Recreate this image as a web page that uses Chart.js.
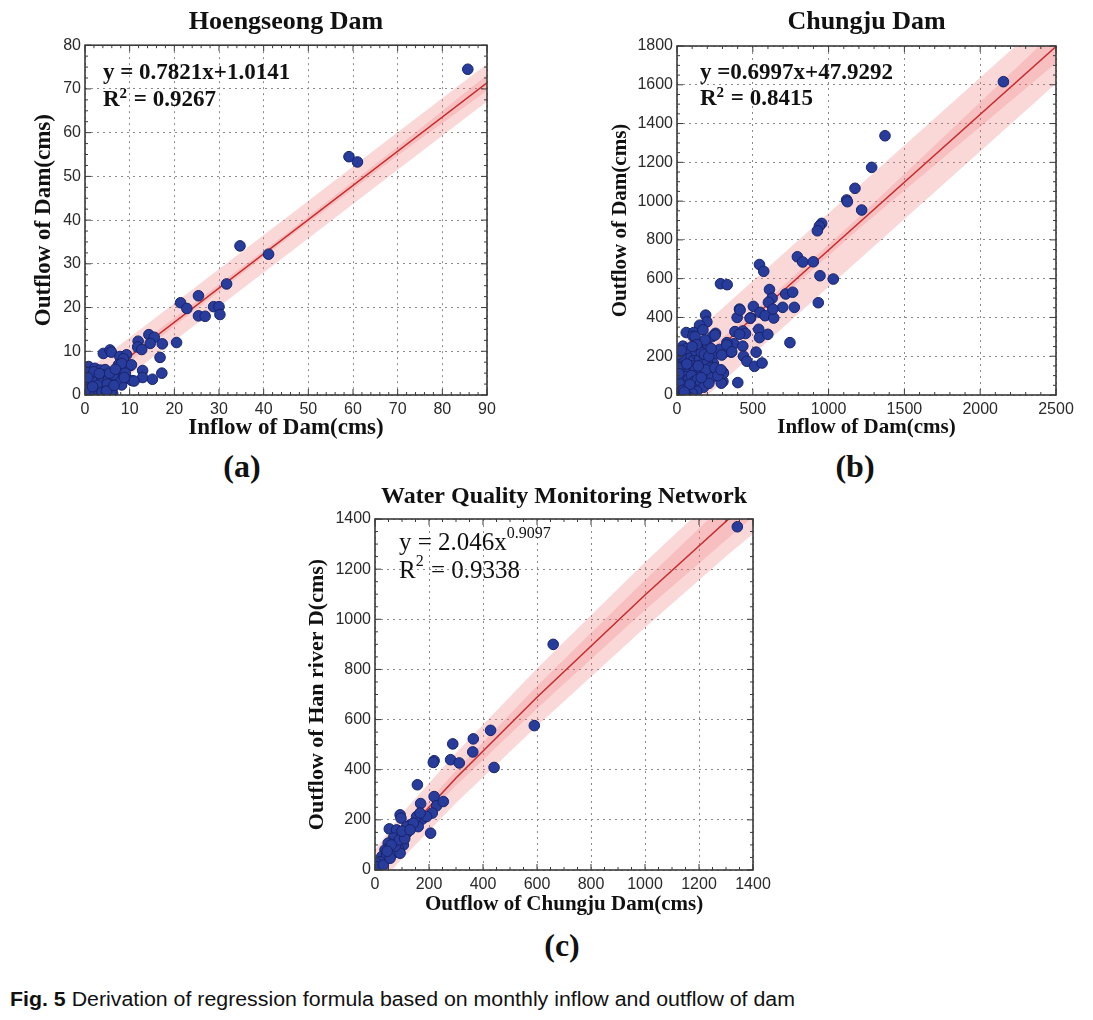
<!DOCTYPE html>
<html>
<head>
<meta charset="utf-8">
<title>Fig. 5 regression</title>
<script src="https://cdn.jsdelivr.net/npm/chart.js@4.4.0/dist/chart.umd.min.js"></script>
<style>
body{margin:0;background:#fff;width:1093px;height:1020px;position:relative;overflow:hidden;}
canvas{position:absolute;}
.lbl{position:absolute;font:bold 32px "Liberation Serif",serif;color:#111;line-height:32px;transform:translateX(-50%);}
#caption{position:absolute;left:10px;top:988px;font:20px "Liberation Sans",Arial,sans-serif;white-space:nowrap;transform-origin:left top;color:#111;}
</style>
</head>
<body>
<canvas id="chartA" width="540" height="445" style="left:0;top:0"></canvas>
<canvas id="chartB" width="503" height="445" style="left:590px;top:0"></canvas>
<canvas id="chartC" width="500" height="445" style="left:290px;top:475px"></canvas>
<div class="lbl" style="left:242px;top:450px">(a)</div>
<div class="lbl" style="left:855px;top:450px">(b)</div>
<div class="lbl" style="left:562px;top:929px">(c)</div>
<div id="caption"><b>Fig. 5</b> Derivation of regression formula based on monthly inflow and outflow of dam</div>
<script>
// DATA (a) HOENGSEONG DAM
const hoengInflow = [85.7,59.1,61.0,34.7,41.1,31.7,25.4,21.4,22.8,25.4,26.9,28.8,30.0,30.2,20.5,14.3,15.5,14.6,17.3,11.9,
  11.8,12.7,16.8,17.2,12.9,12.9,15.1,4.1,5.6,5.9,7.8,9.3,8.6,10.1,7.5,7.8,9.3,10.5,7.8,8.2,6.2,
  0.8,2.2,3.4,4.5,1.1,2.6,4.1,0.4,1.9,3.4,5.2,1.1,3.0,4.5,6.0,0.4,2.2,7.1,6.3,8.2,
  10.4,0.3,0.5,1.5,2.8,3.8,5.0,5.5,6.8,1.0,0.2,2.0,3.2,4.8,6.5,1.7,0.6,9.0,11.0,8.8];
const hoengOutflow = [74.5,54.5,53.3,34.1,32.2,25.4,22.7,21.1,19.8,18.1,18.0,20.2,20.2,18.4,12.0,13.8,13.2,11.8,11.7,12.3,
  11.0,10.4,8.6,5.0,5.6,4.0,3.6,9.5,10.3,9.8,8.8,9.2,8.3,6.7,6.9,5.7,3.8,3.3,3.0,2.3,0.3,
  6.5,6.1,5.7,5.8,4.6,4.2,4.6,3.1,2.7,3.1,3.4,1.5,1.1,1.9,1.1,0.4,0.4,3.4,4.6,7.2,
  6.9,5.2,2.0,3.5,2.2,0.6,2.5,5.0,5.9,0.9,1.2,5.3,4.9,0.9,2.2,1.9,4.0,5.0,3.2,4.0];
const hoengFitX = [0, 90];
const hoengFitY = [1.01, 71.4];
const hoengBandX = [0, 20, 45, 70, 90];
const hoengOuterHi = [5.3, 21.0, 40.5, 60.1, 75.7];
const hoengOuterLo = [-3.3, 12.4, 31.9, 51.5, 67.1];
const hoengInnerHi = [2.6, 17.6, 36.9, 56.8, 73.2];
const hoengInnerLo = [-0.6, 15.8, 35.5, 54.8, 69.6];
const hoengXAxis = [0, 90, 10];
const hoengYAxis = [0, 80, 10];

// DATA (b) CHUNGJU DAM
const chungInflow = [2153,1372,1284,1174,1119,1124,1218,954,939,926,
  794,829,899,943,1031,717,763,697,774,932,
  745,287,331,544,572,610,627,603,504,548,
  581,638,632,485,412,397,382,434,452,412,
  375,434,439,461,511,561,522,539,544,599,
  401,329,357,314,303,303,292,189,197,149,
  61,110,105,39,254,232,171,83,149,204,
  281,237,193,306,240,295,185,119,251,328,
  361,416,482,
  10,30,50,70,90,110,130,150,170,200,
  220,240,20,40,60,80,100,120,140,160,
  180,200,230,15,35,55,75,95,115,135,
  155,175,10,30,50,70,90,110,130,5,
  20,45,80,100,60,25,120,160,65,190,
  210,250,270,290,180,130,100,5,15,40,
  65,85,140,8,28,48,12,160,210,225];
const chungOutflow = [1616,1337,1174,1066,1006,997,954,885,871,847,
  713,686,687,615,598,521,530,452,452,476,
  270,574,569,673,638,544,499,478,457,426,
  409,397,443,398,443,400,327,330,317,313,
  264,252,200,174,148,165,221,339,296,313,
  64,270,221,221,117,70,61,412,377,360,
  322,322,304,252,318,301,336,235,252,252,
  235,200,174,112,163,206,284,301,309,258,
  223,438,396,
  180,160,190,170,200,180,210,190,160,170,
  140,120,130,110,140,120,150,130,110,130,
  100,110,90,90,70,95,80,100,70,80,
  60,40,50,30,50,20,40,30,20,10,
  5,10,5,10,0,200,230,220,240,130,
  60,140,100,130,210,260,250,140,60,25,
  160,55,150,210,230,15,110,90,200,240];
const chungFitX = [0, 2500];
const chungFitY = [48, 1797];
const chungBandX = [0, 600, 1200, 1800, 2500];
const chungOuterHi = [238, 658, 1078, 1497, 1987];
const chungOuterLo = [-142, 278, 698, 1117, 1607];
const chungInnerHi = [98, 493, 918, 1362, 1882];
const chungInnerLo = [-2, 443, 858, 1252, 1712];
const chungXAxis = [0, 2500, 500];
const chungYAxis = [0, 1800, 200];

// DATA (c) WATER QUALITY MONITORING NETWORK
const wqChungju = [1342,660,590,428,364,288,362,280,312,219,
  216,441,157,219,169,228,253,212,206,175,
  154,160,93,96,53,130,117,80,99,68,
  49,80,105,37,62,86,25,43,19,4,
  9,31,68,93,56,117,142,191,167,75,
  90,110,60,45,100,130];
const wqHanRiver = [1369,900,576,557,523,503,471,440,427,436,
  429,409,340,293,265,256,273,227,147,203,
  213,173,220,207,164,180,147,160,133,127,
  107,107,100,80,80,87,53,60,33,29,
  13,20,67,67,47,173,187,213,227,95,
  120,125,100,75,155,160];
const wqFitX = [0, 100, 300, 600, 1000, 1310, 1400];
const wqFitY = [0, 135, 367, 689, 1097, 1400, 1489];
const wqBandX = [0, 100, 300, 600, 1000, 1310, 1400];
const wqOuterHi = [80, 225, 467, 804, 1227, 1540, 1640];
const wqOuterLo = [-80, 45, 267, 574, 967, 1260, 1340];
const wqInnerHi = [10, 155, 397, 734, 1157, 1475, 1570];
const wqInnerLo = [-10, 115, 337, 644, 1037, 1325, 1410];
const wqXAxis = [0, 1400, 200];
const wqYAxis = [0, 1400, 200];

function pts(xs, ys){
  return xs.map((x,i)=>({x:x, y:ys[i]}));
}

// FRAME + INWARD TICKS ON ALL SIDES
const frameTicks = {
  id:'frameTicks',
  afterDatasetsDraw(chart, args, opts){
    const {ctx, chartArea:a, scales:{x, y}} = chart;
    ctx.save();
    ctx.strokeStyle = '#3a3a3a';
    ctx.lineWidth = 1;
    const seg = (x1,y1,x2,y2)=>{ctx.beginPath();ctx.moveTo(x1,y1);ctx.lineTo(x2,y2);ctx.stroke();};
    const sx = x.options.ticks.stepSize / opts.xMinor;
    for(let i=0;i*sx<=x.max-x.min+1e-9;i++){
      const px = x.getPixelForValue(x.min+i*sx);
      const len = i%opts.xMinor===0 ? 6 : 3;
      seg(px,a.bottom,px,a.bottom-len);
      seg(px,a.top,px,a.top+len);
    }
    const sy = y.options.ticks.stepSize / opts.yMinor;
    for(let i=0;i*sy<=y.max-y.min+1e-9;i++){
      const py = y.getPixelForValue(y.min+i*sy);
      const len = i%opts.yMinor===0 ? 6 : 3;
      seg(a.left,py,a.left+len,py);
      seg(a.right,py,a.right-len,py);
    }
    ctx.lineWidth = 1.6;
    ctx.strokeRect(a.left,a.top,a.right-a.left,a.bottom-a.top);
    ctx.restore();
  }
};

// REGRESSION FORMULA TEXT
const equation = {
  id:'equation',
  afterDraw(chart, args, opts){
    const ctx = chart.ctx;
    ctx.save();
    ctx.fillStyle = '#111';
    ctx.textBaseline = 'middle';
    ctx.textAlign = 'left';
    opts.lines.forEach((runs, li)=>{
      let x = opts.x;
      const y = opts.ys[li];
      runs.forEach(r=>{
        ctx.font = r.sup ? opts.supFont : opts.font;
        ctx.fillText(r.t, x, r.sup ? y - opts.supRise : y);
        x += ctx.measureText(r.t).width + (r.sup ? 1 : 0);
      });
    });
    ctx.restore();
  }
};

function buildChart(id, o){
  const tickFont = {family:'Liberation Sans', size:16};
  const titleFont = size => ({family:'Liberation Serif', weight:'bold', size:size});
  return new Chart(document.getElementById(id), {
    type:'scatter',
    data:{
      datasets:[
        {label:'obs', data:pts(o.xs,o.ys), backgroundColor:'#283c9c', borderColor:'#17236a',
          borderWidth:1, pointRadius:5.3, order:1},
        {type:'line', label:'fit', data:pts(o.fitX,o.fitY), borderColor:'#c62a2c', borderWidth:1.5,
          pointRadius:0, fill:false, order:2},
        {type:'line', label:'outerHi', data:pts(o.bandX,o.outerHi), borderColor:'rgba(0,0,0,0)', borderWidth:0,
          pointRadius:0, fill:3, backgroundColor:'rgba(240,110,110,0.27)', order:5},
        {type:'line', label:'outerLo', data:pts(o.bandX,o.outerLo), borderColor:'rgba(0,0,0,0)', borderWidth:0,
          pointRadius:0, fill:false, order:5},
        {type:'line', label:'innerHi', data:pts(o.bandX,o.innerHi), borderColor:'rgba(0,0,0,0)', borderWidth:0,
          pointRadius:0, fill:5, backgroundColor:'rgba(230,100,100,0.22)', order:4},
        {type:'line', label:'innerLo', data:pts(o.bandX,o.innerLo), borderColor:'rgba(0,0,0,0)', borderWidth:0,
          pointRadius:0, fill:false, order:4}
      ]
    },
    options:{
      responsive:false,
      animation:false,
      layout:{padding:{left:0,right:o.padRight,top:0,bottom:0}},
      plugins:{
        legend:{display:false},
        tooltip:{enabled:false},
        title:{display:true, text:o.title, fullSize:false, color:'#111', font:titleFont(o.titleSize),
          padding:{top:7,bottom:o.titlePadB}},
        frameTicks:{xMinor:o.xMinor, yMinor:o.yMinor},
        equation:o.eq
      },
      scales:{
        x:{
          type:'linear', min:o.xAxis[0], max:o.xAxis[1],
          ticks:{stepSize:o.xAxis[2], color:'#2a2a2a', font:tickFont, padding:5, maxRotation:0, autoSkip:false,
            callback:v=>String(v)},
          grid:{color:'#8a8a8a', lineWidth:1, drawTicks:false},
          border:{display:false, dash:[2,4]},
          title:{display:true, text:o.xTitle, color:'#111', font:titleFont(o.xTitleSize), padding:{top:0,bottom:o.xTitlePad}},
          afterFit(s){ s.height = 50; }
        },
        y:{
          type:'linear', min:o.yAxis[0], max:o.yAxis[1],
          ticks:{stepSize:o.yAxis[2], color:'#2a2a2a', font:tickFont, padding:4, autoSkip:false,
            callback:v=>String(v)},
          grid:{color:'#8a8a8a', lineWidth:1, drawTicks:false},
          border:{display:false, dash:[2,4]},
          title:{display:true, text:o.yTitle, color:'#111', font:titleFont(o.yTitleSize), padding:{top:o.yTitlePad,bottom:0}},
          afterFit(s){ s.width = o.yWidth; }
        }
      }
    },
    plugins:[frameTicks, equation]
  });
}

const boldEq = {font:'bold 23px "Liberation Serif"', supFont:'bold 15px "Liberation Serif"', supRise:6};

buildChart('chartA', {
  xs:hoengInflow, ys:hoengOutflow, fitX:hoengFitX, fitY:hoengFitY,
  bandX:hoengBandX, outerHi:hoengOuterHi, outerLo:hoengOuterLo, innerHi:hoengInnerHi, innerLo:hoengInnerLo,
  xAxis:hoengXAxis, yAxis:hoengYAxis, xMinor:5, yMinor:4,
  title:'Hoengseong Dam', titleSize:26, titlePadB:7,
  xTitle:'Inflow of Dam(cms)', xTitleSize:23, xTitlePad:3,
  yTitle:'Outflow of Dam(cms)', yTitleSize:23, yTitlePad:30, yWidth:85, padRight:53,
  eq:Object.assign({x:103, ys:[73,100], lines:[[{t:'y = 0.7821x+1.0141'}],[{t:'R'},{t:'2',sup:true},{t:' = 0.9267'}]]}, boldEq)
});

buildChart('chartB', {
  xs:chungInflow, ys:chungOutflow, fitX:chungFitX, fitY:chungFitY,
  bandX:chungBandX, outerHi:chungOuterHi, outerLo:chungOuterLo, innerHi:chungInnerHi, innerLo:chungInnerLo,
  xAxis:chungXAxis, yAxis:chungYAxis, xMinor:5, yMinor:4,
  title:'Chungju Dam', titleSize:26, titlePadB:7.8,
  xTitle:'Inflow of Dam(cms)', xTitleSize:21, xTitlePad:5,
  yTitle:'Outflow of Dam(cms)', yTitleSize:21, yTitlePad:18, yWidth:87, padRight:37,
  eq:Object.assign({x:110, ys:[73,99], lines:[[{t:'y =0.6997x+47.9292'}],[{t:'R'},{t:'2',sup:true},{t:' = 0.8415'}]]}, boldEq)
});

buildChart('chartC', {
  xs:wqChungju, ys:wqHanRiver, fitX:wqFitX, fitY:wqFitY,
  bandX:wqBandX, outerHi:wqOuterHi, outerLo:wqOuterLo, innerHi:wqInnerHi, innerLo:wqInnerLo,
  xAxis:wqXAxis, yAxis:wqYAxis, xMinor:4, yMinor:4,
  title:'Water Quality Monitoring Network', titleSize:24, titlePadB:8.2,
  xTitle:'Outflow of Chungju Dam(cms)', xTitleSize:21, xTitlePad:3,
  yTitle:'Outflow of Han river D(cms)', yTitleSize:22, yTitlePad:14, yWidth:85, padRight:37,
  eq:{x:109, ys:[68,96], font:'25px "Liberation Serif"', supFont:'16px "Liberation Serif"', supRise:9,
    lines:[[{t:'y = 2.046x'},{t:'0.9097',sup:true}],[{t:'R'},{t:'2',sup:true},{t:' = 0.9338'}]]}
});

// CAPTION WIDTH
const cap = document.getElementById('caption');
cap.style.transform = 'scaleX(' + (785 / cap.offsetWidth) + ')';
</script>
</body>
</html>
